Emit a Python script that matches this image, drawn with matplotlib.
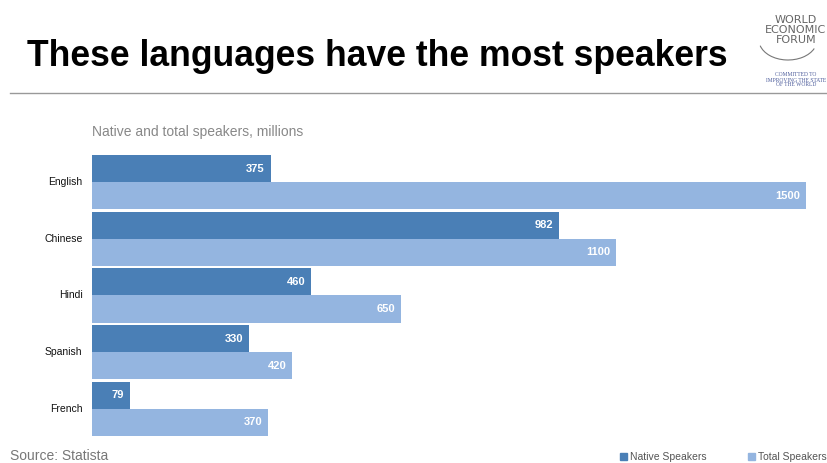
import matplotlib
matplotlib.use("Agg")
import matplotlib.pyplot as plt
from matplotlib.patches import Rectangle, Arc
from matplotlib import font_manager

languages = ["English", "Chinese", "Hindi", "Spanish", "French"]
native = [375, 982, 460, 330, 79]
total = [1500, 1100, 650, 420, 370]

NATIVE_C = "#4a7fb6"
TOTAL_C = "#94b5e0"

W, H = 827, 463
fig = plt.figure(figsize=(W / 100, H / 100), dpi=100)

names = {f.name for f in font_manager.fontManager.ttflist}
title_font = "Liberation Sans Narrow" if "Liberation Sans Narrow" in names else "Liberation Sans"

def fx(px):
    return px / W

def fy(py):
    return 1 - py / H

# axes: left 92, right 806 for 1500 units; top 154, bottom 437
ax = fig.add_axes([fx(92), fy(437), fx(806 - 92), (437 - 154) / H])
ax.set_xlim(0, 1500)
ax.set_ylim(4.5, -0.5)
ax.axis("off")

ys = list(range(len(languages)))
bh = 0.48
ax.barh([y - bh / 2 for y in ys], native, height=bh, color=NATIVE_C, edgecolor="none")
ax.barh([y + bh / 2 for y in ys], total, height=bh, color=TOTAL_C, edgecolor="none")

for y, v in zip(ys, native):
    ax.text(v - 12, y - bh / 2, f"{v}", ha="right", va="center", color="white",
            fontsize=8, fontweight="bold", family="Liberation Sans")
for y, v in zip(ys, total):
    ax.text(v - 12, y + bh / 2, f"{v}", ha="right", va="center", color="white",
            fontsize=8, fontweight="bold", family="Liberation Sans")
for y, name in zip(ys, languages):
    ax.text(-20, y, name, ha="right", va="center", color="#111111",
            fontsize=7.5, family="Liberation Sans")

# title
fig.text(fx(27), fy(57), "These languages have the most speakers", ha="left", va="center",
         fontsize=25.6, fontweight="bold", family=title_font, color="#000000")

# rule
fig.add_artist(plt.Line2D([fx(10), 1.0], [fy(93), fy(93)], color="#999999", lw=1))

# subtitle
fig.text(fx(92), fy(132), "Native and total speakers, millions", ha="left", va="center",
         fontsize=10, color="#888888", family="Liberation Sans")

# source
fig.text(fx(10), fy(456), "Source: Statista", ha="left", va="center",
         fontsize=10, color="#777777", family="Liberation Sans")

# legend
for px, label, c in [(620, "Native Speakers", NATIVE_C), (748, "Total Speakers", TOTAL_C)]:
    fig.add_artist(Rectangle((fx(px), fy(460)), 7 / W, 7 / H, color=c, transform=fig.transFigure))
    fig.text(fx(px + 10), fy(456.5), label, ha="left", va="center", fontsize=7.5,
             color="#555555", family="Liberation Sans")

# logo
fig.text(fx(796), fy(30), "WORLD\nECONOMIC\nFORUM", ha="center", va="center", fontsize=8,
         color="#666666", family="DejaVu Sans", linespacing=0.95)
fig.add_artist(Arc((fx(788), fy(40)), 58 / W, 40 / H, theta1=200, theta2=330,
                   color="#777777", lw=0.8, transform=fig.transFigure))
fig.text(fx(796), fy(80), "COMMITTED TO\nIMPROVING THE STATE\nOF THE WORLD", ha="center", va="center",
         fontsize=4.0, color="#4a5a9a", family="Liberation Serif", linespacing=1.0)

fig.savefig("out.png", dpi=100, facecolor="white")
